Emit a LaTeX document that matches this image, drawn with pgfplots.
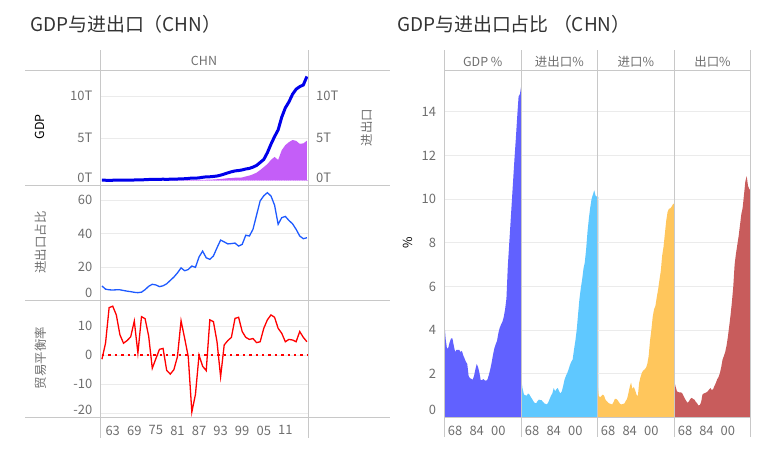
\documentclass[border=0pt]{standalone}
\usepackage{fontspec}
\setmainfont{Noto Sans CJK SC}
\usepackage{pgfplots}
\pgfplotsset{compat=1.18}

\definecolor{tickgray}{RGB}{110,110,110}
\definecolor{titlegray}{RGB}{51,51,51}
\definecolor{gridgray}{RGB}{235,235,235}
\definecolor{sepgray}{RGB}{200,200,200}
\definecolor{gdpblue}{RGB}{0,0,235}
\definecolor{tradepurple}{RGB}{196,94,248}
\definecolor{ratioblue}{RGB}{30,90,255}
\definecolor{areablue}{RGB}{97,97,255}
\definecolor{arealight}{RGB}{95,200,255}
\definecolor{areaorange}{RGB}{255,198,92}
\definecolor{areared}{RGB}{200,92,92}

\newcommand\tickfont{\fontsize{13}{13}\selectfont}
\newcommand\labfont{\fontsize{12.5}{12.5}\selectfont}

\pgfplotsset{
  base/.style={
    scale only axis, anchor=north west,
    axis line style={draw=none},
    major tick length=0pt, tick style={draw=none},
    ymajorgrids, grid style={gridgray, line width=0.8bp},
    /pgf/number format/assume math mode=true,
    ticklabel style={font=\tickfont, text=tickgray, inner sep=0pt},
    yticklabel style={anchor=east, xshift=-8bp},
    xticklabel style={anchor=north, yshift=-8.5bp},
  },
  leftp/.style={base, width=207.5bp, xmin=1959.6, xmax=2017.3, xtick=\empty},
  rightp/.style={base, width=77bp, height=347.2bp, xmin=1960, xmax=2017,
    ymin=0, ymax=15.89, ytick={2,4,...,14}, yticklabels={},
    xtick={1968,1984,2000}, xticklabels={68,84,00}},
}

\begin{document}
\begin{tikzpicture}
\path[use as bounding box] (0,0) rectangle (776bp,-449bp);

% ---------- left: GDP and trade ----------
\begin{axis}[leftp, at={(100.5bp,-70.3bp)}, height=115.2bp,
  ymin=-0.57, ymax=13.03, ytick={5,10}, yticklabels={5T,10T},
  extra y ticks={0}, extra y tick labels={0T},
  extra y tick style={grid=none, tick label style={yshift=2.5bp}}]
\addplot [fill=tradepurple, draw=none] coordinates {
(1960,0.004)(1961,0.003)(1962,0.003)(1963,0.003)(1964,0.003)(1965,0.004)(1966,0.005)(1967,0.004)(1968,0.004)(1969,0.004)
(1970,0.005)(1971,0.005)(1972,0.006)(1973,0.01)(1974,0.014)(1975,0.015)(1976,0.013)(1977,0.015)(1978,0.02)(1979,0.03)
(1980,0.04)(1981,0.045)(1982,0.045)(1983,0.045)(1984,0.055)(1985,0.075)(1986,0.075)(1987,0.085)(1988,0.10)(1989,0.11)
(1990,0.12)(1991,0.14)(1992,0.17)(1993,0.20)(1994,0.24)(1995,0.29)(1996,0.31)(1997,0.35)(1998,0.35)(1999,0.38)
(2000,0.50)(2001,0.60)(2002,0.75)(2003,0.95)(2004,1.25)(2005,1.6)(2006,1.95)(2007,2.45)(2008,2.8)(2009,2.45)
(2010,3.6)(2011,4.2)(2012,4.55)(2013,4.8)(2014,4.7)(2015,4.35)(2016,4.4)(2017,4.72)} \closedcycle;
\addplot [tradepurple!50, densely dotted, line width=0.8bp] coordinates {(1960,0) (2017,0)};
\addplot [gdpblue, line width=3bp] coordinates {
(1960,0.06)(1961,0.05)(1962,0.047)(1963,0.05)(1964,0.06)(1965,0.07)(1966,0.077)(1967,0.073)(1968,0.071)(1969,0.08)
(1970,0.093)(1971,0.10)(1972,0.114)(1973,0.139)(1974,0.144)(1975,0.163)(1976,0.154)(1977,0.175)(1978,0.15)(1979,0.178)
(1980,0.191)(1981,0.196)(1982,0.209)(1983,0.23)(1984,0.26)(1985,0.31)(1986,0.30)(1987,0.33)(1988,0.40)(1989,0.45)
(1990,0.46)(1991,0.50)(1992,0.55)(1993,0.65)(1994,0.78)(1995,0.92)(1996,1.05)(1997,1.15)(1998,1.2)(1999,1.27)
(2000,1.38)(2001,1.45)(2002,1.6)(2003,1.8)(2004,2.15)(2005,2.5)(2006,3.3)(2007,4.3)(2008,5.2)(2009,6.0)
(2010,7.5)(2011,8.6)(2012,9.3)(2013,10.2)(2014,10.8)(2015,11.1)(2016,11.3)(2017,12.3)};
\end{axis}
% right-hand tick labels of the top panel
\begin{axis}[leftp, at={(100.5bp,-70.3bp)}, height=115.2bp,
  ymin=-0.57, ymax=13.03, ytick={5,10}, yticklabels={5T,10T}, ymajorgrids=false,
  yticklabel pos=right, yticklabel style={anchor=west, xshift=16bp},
  extra y ticks={0}, extra y tick labels={0T},
  extra y tick style={tick label style={yshift=2.5bp}}]
\addplot [draw=none] coordinates {(1960,0)};
\end{axis}

\begin{axis}[leftp, at={(100.5bp,-185.5bp)}, height=115.2bp,
  ymin=-0.1, ymax=68.66, ytick={20,40,60},
  extra y ticks={0}, extra y tick labels={0},
  extra y tick style={grid=none, tick label style={yshift=8bp}}]
\addplot [ratioblue, line width=1.3bp] coordinates {
(1960,8.7)(1961,6.8)(1962,6.4)(1963,6.3)(1964,6.4)(1965,6.4)(1966,6.0)(1967,5.6)(1968,5.3)(1969,4.9)
(1970,4.7)(1971,5.0)(1972,6.5)(1973,8.5)(1974,9.7)(1975,9.3)(1976,8.3)(1977,8.8)(1978,10.0)(1979,12.0)
(1980,14.0)(1981,16.5)(1982,19.5)(1983,17.8)(1984,18.5)(1985,20.6)(1986,19.8)(1987,26.0)(1988,29.5)(1989,25.5)
(1990,24.6)(1991,26.6)(1992,31.5)(1993,36.1)(1994,35.0)(1995,33.8)(1996,34.0)(1997,34.3)(1998,32.5)(1999,33.5)
(2000,39.0)(2001,38.5)(2002,42.5)(2003,51.0)(2004,59.5)(2005,62.5)(2006,64.4)(2007,62.4)(2008,57.0)(2009,45.5)
(2010,49.5)(2011,50.2)(2012,47.8)(2013,45.8)(2014,42.5)(2015,38.5)(2016,36.9)(2017,37.5)};
\end{axis}

\begin{axis}[leftp, at={(100.5bp,-300.7bp)}, height=116.3bp,
  ymin=-21.22, ymax=18.68, ytick={-10,0,10}, yticklabels={-10,0,10},
  extra y ticks={-20}, extra y tick labels={-20},
  extra y tick style={tick label style={yshift=4bp}},
  xtick={1963,1969,...,2011}, xticklabels={63,69,75,81,87,93,99,05,11}]
\addplot [red, line width=2.4bp, dash pattern=on 2.4bp off 4bp] coordinates {(1960,0) (2017,0)};
\addplot [red, line width=1.3bp] coordinates {
(1960,-1.4)(1961,4.1)(1962,16.3)(1963,16.8)(1964,13.8)(1965,7.0)(1966,4.1)(1967,5.0)(1968,6.3)(1969,11.7)
(1970,0.7)(1971,13.2)(1972,12.5)(1973,6.5)(1974,-4.5)(1975,-1.2)(1976,2.0)(1977,2.3)(1978,-5.2)(1979,-6.5)
(1980,-5.0)(1981,-0.5)(1982,11.8)(1983,5.8)(1984,-0.5)(1985,-19.5)(1986,-13.5)(1987,0.0)(1988,-3.8)(1989,-5.3)
(1990,12.1)(1991,11.5)(1992,4.6)(1993,-7.4)(1994,3.5)(1995,5.0)(1996,6.1)(1997,12.6)(1998,13.0)(1999,8.1)
(2000,6.1)(2001,5.4)(2002,5.7)(2003,4.3)(2004,4.6)(2005,9.2)(2006,12.1)(2007,13.8)(2008,13.0)(2009,9.2)
(2010,7.5)(2011,4.6)(2012,5.4)(2013,5.2)(2014,4.6)(2015,8.1)(2016,6.1)(2017,4.6)};
\end{axis}

% ---------- right: shares ----------
\begin{axis}[rightp, at={(444.3bp,-70.3bp)}, yticklabels={2,4,6,8,10,12,14},
  extra y ticks={0}, extra y tick labels={0},
  extra y tick style={grid=none, tick label style={yshift=8bp}}]
\addplot [fill=areablue, draw=none] coordinates {
(1960,4.4)(1961,3.6)(1962,3.15)(1963,3.2)(1964,3.45)(1965,3.62)(1966,3.62)(1967,3.3)(1968,3.0)(1969,3.1)
(1970,3.1)(1971,3.1)(1972,3.0)(1973,3.05)(1974,2.85)(1975,2.7)(1976,2.55)(1977,2.45)(1978,1.9)(1979,1.8)
(1980,1.77)(1981,1.73)(1982,1.9)(1983,2.2)(1984,2.45)(1985,2.3)(1986,2.05)(1987,1.7)(1988,1.72)(1989,1.76)
(1990,1.7)(1991,1.68)(1992,1.75)(1993,1.95)(1994,2.2)(1995,2.5)(1996,2.85)(1997,3.15)(1998,3.35)(1999,3.5)
(2000,3.85)(2001,4.1)(2002,4.25)(2003,4.38)(2004,4.6)(2005,4.95)(2006,5.45)(2007,6.9)(2008,7.9)(2009,8.9)
(2010,9.9)(2011,10.9)(2012,11.9)(2013,12.8)(2014,13.8)(2015,14.7)(2016,14.8)(2017,15.2)} \closedcycle;
\end{axis}
\begin{axis}[rightp, at={(521.3bp,-70.3bp)}]
\addplot [fill=arealight, draw=none] coordinates {
(1960,1.73)(1961,1.3)(1962,1.05)(1963,1.02)(1964,1.0)(1965,1.1)(1966,1.05)(1967,0.94)(1968,0.85)(1969,0.74)
(1970,0.66)(1971,0.65)(1972,0.75)(1973,0.82)(1974,0.8)(1975,0.79)(1976,0.72)(1977,0.65)(1978,0.62)(1979,0.6)
(1980,0.7)(1981,0.85)(1982,1.0)(1983,1.1)(1984,1.35)(1985,1.2)(1986,1.3)(1987,1.35)(1988,1.2)(1989,1.1)
(1990,1.2)(1991,1.45)(1992,1.73)(1993,1.9)(1994,2.03)(1995,2.2)(1996,2.4)(1997,2.55)(1998,2.65)(1999,3.1)
(2000,3.5)(2001,4.0)(2002,4.7)(2003,5.4)(2004,5.9)(2005,6.3)(2006,6.8)(2007,7.1)(2008,7.7)(2009,8.5)
(2010,9.1)(2011,9.6)(2012,10.0)(2013,10.2)(2014,10.4)(2015,10.15)(2016,10.1)(2017,10.1)} \closedcycle;
\end{axis}
\begin{axis}[rightp, at={(597.3bp,-70.3bp)}]
\addplot [fill=areaorange, draw=none] coordinates {
(1960,1.73)(1961,1.0)(1962,0.92)(1963,0.98)(1964,1.05)(1965,1.0)(1966,0.82)(1967,0.75)(1968,0.68)(1969,0.64)
(1970,0.62)(1971,0.6)(1972,0.7)(1973,0.85)(1974,0.85)(1975,0.8)(1976,0.7)(1977,0.62)(1978,0.6)(1979,0.62)
(1980,0.64)(1981,0.75)(1982,0.85)(1983,1.1)(1984,1.4)(1985,1.6)(1986,1.3)(1987,1.4)(1988,1.25)(1989,1.05)
(1990,0.97)(1991,1.6)(1992,1.85)(1993,2.05)(1994,2.15)(1995,2.2)(1996,2.27)(1997,2.45)(1998,2.8)(1999,3.5)
(2000,4.0)(2001,4.6)(2002,4.95)(2003,5.1)(2004,5.5)(2005,5.85)(2006,6.3)(2007,6.7)(2008,7.4)(2009,7.8)
(2010,8.4)(2011,9.0)(2012,9.4)(2013,9.55)(2014,9.57)(2015,9.65)(2016,9.76)(2017,9.8)} \closedcycle;
\end{axis}
\begin{axis}[rightp, at={(674.3bp,-70.3bp)}, width=76.4bp]
\addplot [fill=areared, draw=none] coordinates {
(1960,1.66)(1961,1.4)(1962,1.2)(1963,1.16)(1964,1.15)(1965,1.15)(1966,1.1)(1967,0.97)(1968,0.85)(1969,0.75)
(1970,0.67)(1971,0.75)(1972,0.85)(1973,0.9)(1974,0.85)(1975,0.82)(1976,0.72)(1977,0.65)(1978,0.55)(1979,0.57)
(1980,0.7)(1981,1.05)(1982,1.1)(1983,1.12)(1984,1.15)(1985,1.2)(1986,1.28)(1987,1.35)(1988,1.25)(1989,1.3)
(1990,1.45)(1991,1.58)(1992,1.75)(1993,1.85)(1994,2.03)(1995,2.3)(1996,2.65)(1997,2.82)(1998,3.0)(1999,3.3)
(2000,3.7)(2001,4.2)(2002,4.7)(2003,5.3)(2004,6.0)(2005,7.0)(2006,7.5)(2007,7.9)(2008,8.3)(2009,8.8)
(2010,9.3)(2011,9.6)(2012,10.2)(2013,10.8)(2014,11.05)(2015,10.6)(2016,10.45)(2017,10.4)} \closedcycle;
\end{axis}

% ---------- frame lines ----------
\begin{scope}[sepgray, line width=1bp]
\foreach \yy in {70.3,185.5,300.7,417} \draw (25bp,-\yy bp) -- (390bp,-\yy bp);
\foreach \xx in {100.5,308} \draw (\xx bp,-50bp) -- (\xx bp,-438bp);
\draw (444.3bp,-70.3bp) -- (750.7bp,-70.3bp);
\draw (444.3bp,-417.5bp) -- (750.7bp,-417.5bp);
\foreach \xx in {444.3,521.3,597.3,674.3,750.7} \draw (\xx bp,-50bp) -- (\xx bp,-437bp);
\end{scope}

% ---------- texts ----------
\node[anchor=west, text=titlegray, font=\fontsize{19}{19}\selectfont, inner sep=0pt] at (30bp,-24.5bp) {GDP与进出口（CHN）};
\node[anchor=west, text=titlegray, font=\fontsize{19}{19}\selectfont, inner sep=0pt] at (397bp,-24.5bp) {GDP与进出口占比 （CHN）};
\node[text=tickgray, font=\labfont] at (204bp,-61bp) {CHN};
\node[text=tickgray, font=\labfont] at (482.8bp,-61.5bp) {GDP \%};
\node[text=tickgray, font=\labfont] at (559.3bp,-61.5bp) {进出口\%};
\node[text=tickgray, font=\labfont] at (635.8bp,-61.5bp) {进口\%};
\node[text=tickgray, font=\labfont] at (712.5bp,-61.5bp) {出口\%};
\node[rotate=90, text=black, font=\labfont] at (40bp,-127bp) {GDP};
\node[rotate=90, text=tickgray, font=\labfont] at (367bp,-127.5bp) {进出口};
\node[rotate=90, text=tickgray, font=\labfont] at (41bp,-242.5bp) {进出口占比};
\node[rotate=90, text=tickgray, font=\labfont] at (41bp,-358bp) {贸易平衡率};
\node[rotate=90, text=black, font=\labfont] at (407.5bp,-243bp) {\%};
\end{tikzpicture}
\end{document}
